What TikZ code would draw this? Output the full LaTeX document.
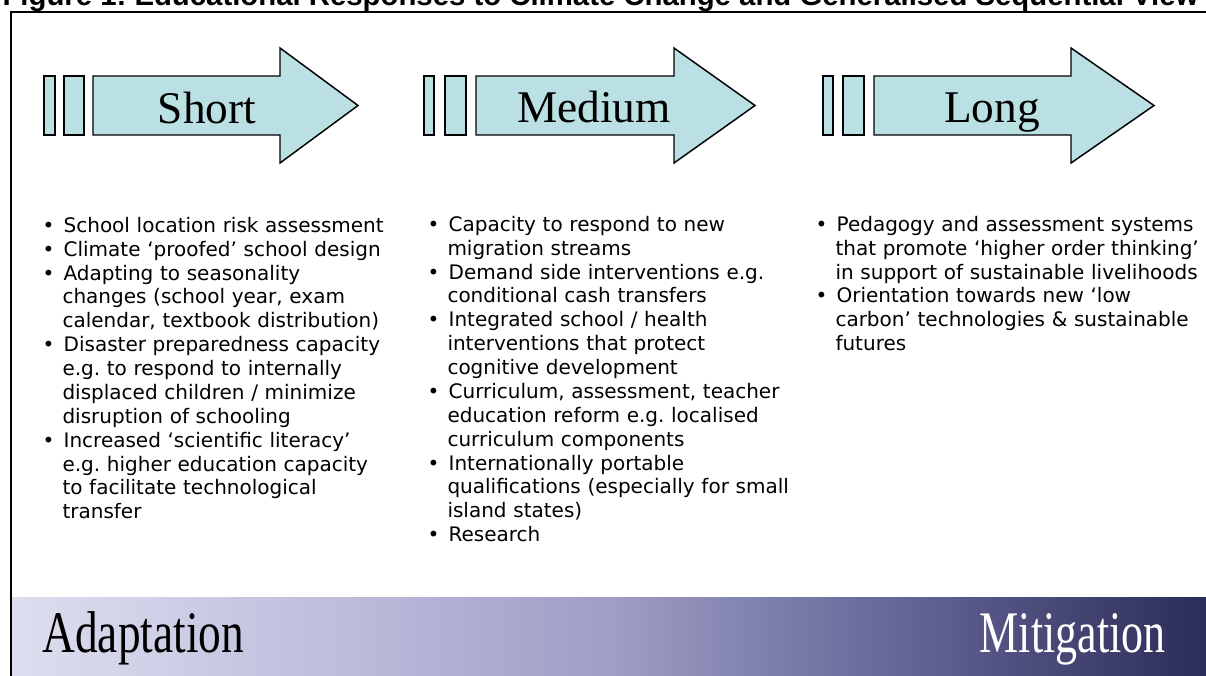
\documentclass[tikz,border=0pt]{standalone}
\usepackage{fontspec}
\setmainfont{Liberation Serif}
\newfontfamily\bodyfont{DejaVu Sans}
\newfontfamily\titlefont{Liberation Sans}
\frenchspacing

\definecolor{arrowcyan}{RGB}{186,224,227}
\definecolor{bandlight}{RGB}{222,222,240}
\definecolor{bandquarter}{RGB}{192,192,222}
\definecolor{bandmid}{RGB}{158,158,198}
\definecolor{bandthreeq}{RGB}{100,100,150}
\definecolor{banddark}{RGB}{44,44,88}

\pgfdeclarehorizontalshading{bandshade}{100bp}{%
  color(0bp)=(bandlight); color(25bp)=(bandlight); color(37.5bp)=(bandquarter);
  color(50bp)=(bandmid); color(62.5bp)=(bandthreeq); color(75bp)=(banddark);
  color(100bp)=(banddark)}

\newenvironment{climatelist}{%
  \begin{list}{\textbullet}{\setlength\leftmargin{15pt}\setlength\labelwidth{8pt}%
    \setlength\labelsep{7pt}\setlength\itemsep{0pt}\setlength\parsep{0pt}%
    \setlength\topsep{0pt}\setlength\partopsep{0pt}}\raggedright\frenchspacing}%
  {\end{list}}

\tikzset{every picture/.style={line width=0.75pt}}
\tikzset{
  timebar/.style={draw=black, fill=arrowcyan, line width=1.1pt},
  timelabel/.style={anchor=base, inner sep=0pt, font=\fontsize{34}{40}\selectfont},
  bulletlist/.style={anchor=north west, inner sep=0pt, font=\bodyfont\fontsize{15}{17.9}\selectfont},
  bandlabel/.style={inner sep=0pt, font=\fontsize{34}{40}\selectfont}
}

\begin{document}
\begin{tikzpicture}[x=0.75pt,y=0.75pt,yscale=-1,xscale=1]
	\useasboundingbox (0,0) rectangle (1206,675);

	%Shape: Gradient band
	\shade [shading=bandshade] (12,597) rectangle (1206,675);
	%Straight Lines: frame
	\draw [line width=1.5pt] (11,690) -- (11,12) -- (1220,12);

	% Text Node
	\node [anchor=base west, inner sep=0pt, font=\titlefont\bfseries\fontsize{22}{26}\selectfont] (title) at (2,5) {Figure 1: Educational Responses to Climate Change and Generalised Sequential View};

	%Shape: Rectangle
	\draw [timebar] (44,76) rectangle (55,135);
	\draw [timebar] (64,76) rectangle (84,135);
	%Shape: Right Arrow
	\draw [timebar] (93,76) -- (280,76) -- (280,48) -- (358,105.5) -- (280,163) -- (280,135) -- (93,135) -- cycle;
	% Text Node
	\node [timelabel] (short) at (207,123) {Short};

	%Shape: Rectangle
	\draw [timebar] (424,76) rectangle (434,135);
	\draw [timebar] (445,76) rectangle (466,135);
	%Shape: Right Arrow
	\draw [timebar] (476,76) -- (674,76) -- (674,48) -- (755,105.5) -- (674,163) -- (674,135) -- (476,135) -- cycle;
	% Text Node
	\node [timelabel] (medium) at (594,122) {Medium};

	%Shape: Rectangle
	\draw [timebar] (823,76) rectangle (833,135);
	\draw [timebar] (843,76) rectangle (864,135);
	%Shape: Right Arrow
	\draw [timebar] (874,76) -- (1071,76) -- (1071,48) -- (1154,105.5) -- (1071,163) -- (1071,135) -- (874,135) -- cycle;
	% Text Node
	\node [timelabel] (long) at (992,122) {Long};

	% Text Node
	\node [bulletlist, text width=275pt] (shortlist) at (42,208) {\begin{climatelist}
		\item School location risk assessment
		\item Climate ‘proofed’ school design
		\item Adapting to seasonality\newline changes (school year, exam\newline calendar, textbook distribution)
		\item Disaster preparedness capacity\newline e.g. to respond to internally\newline displaced children / minimize\newline disruption of schooling
		\item Increased ‘scientific literacy’\newline e.g. higher education capacity\newline to facilitate technological\newline transfer
	\end{climatelist}};
	% Text Node
	\node [bulletlist, text width=285pt] (mediumlist) at (427,207) {\begin{climatelist}
		\item Capacity to respond to new\newline migration streams
		\item Demand side interventions e.g.\newline conditional cash transfers
		\item Integrated school / health\newline interventions that protect\newline cognitive development
		\item Curriculum, assessment, teacher\newline education reform e.g. localised\newline curriculum components
		\item Internationally portable\newline qualifications (especially for small\newline island states)
		\item Research
	\end{climatelist}};
	% Text Node
	\node [bulletlist, text width=295pt] (longlist) at (815,207) {\begin{climatelist}
		\item Pedagogy and assessment systems\newline that promote ‘higher order thinking’\newline in support of sustainable livelihoods
		\item Orientation towards new ‘low\newline carbon’ technologies \& sustainable\newline futures
	\end{climatelist}};

	% Text Node
	\node [bandlabel, anchor=base west] (adaptation) at (42,652) {\scalebox{1}[1.3]{Adaptation}};
	% Text Node
	\node [bandlabel, anchor=base east, text=white] (mitigation) at (1166,652) {\scalebox{0.97}[1.3]{Mitigation}};

\end{tikzpicture}
\end{document}
